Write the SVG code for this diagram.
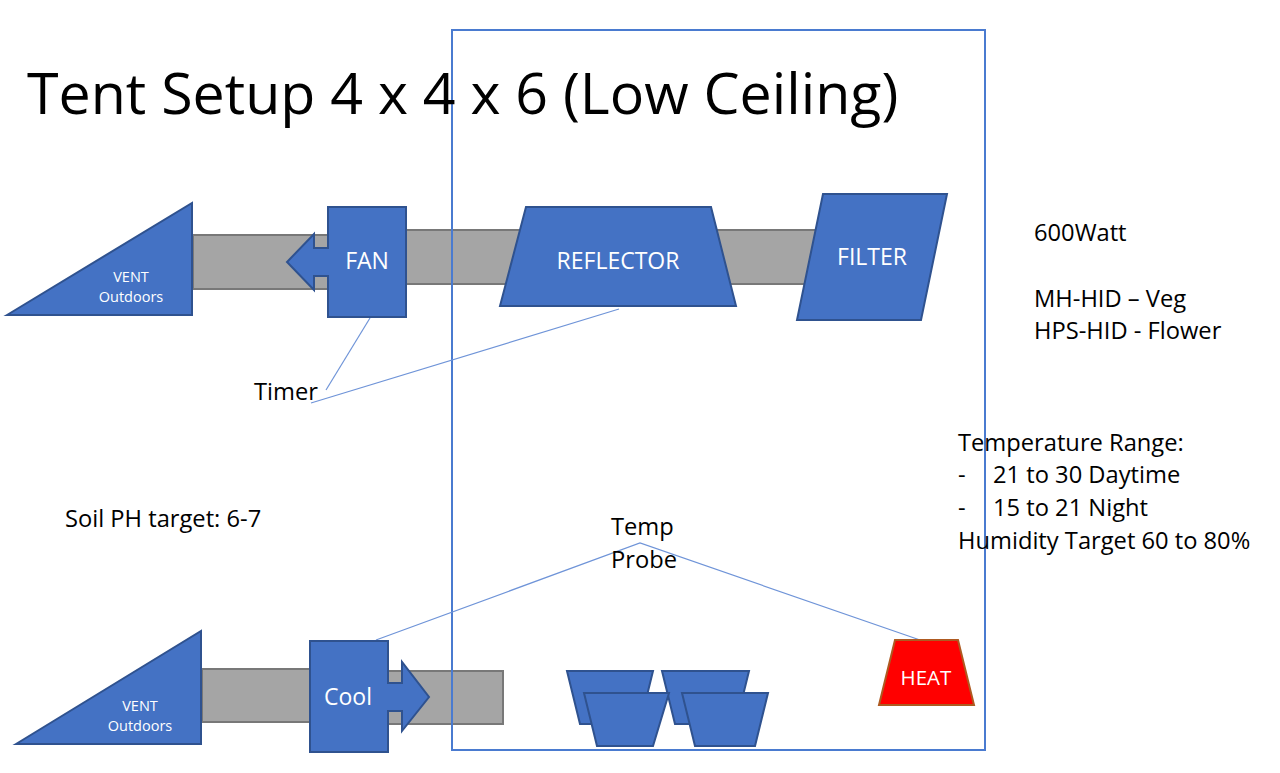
<svg xmlns="http://www.w3.org/2000/svg" width="1280" height="773" viewBox="0 0 1280 773">
<style>
text{font-family:"Open Sans","Noto Sans","Liberation Sans",sans-serif;}
.s{fill:#4472c4;stroke:#2f528f;stroke-width:2}
.d{fill:#a5a5a5;stroke:#787878;stroke-width:2}
.w{fill:#fff;text-anchor:middle}
.k{fill:#000;font-size:23.7px}
.l{stroke:#6f94d8;stroke-width:1.2;fill:none}
</style>
<rect width="1280" height="773" fill="#fff"/>
<g id="ducts">
<rect class="d" x="193" y="235" width="140" height="54"/>
<rect class="d" x="406" y="230" width="420" height="54"/>
<rect class="d" x="202" y="669" width="110" height="53"/>
<rect class="d" x="387" y="671" width="116" height="53"/>
</g>
<g id="tent"><rect x="452" y="30" width="533" height="720" fill="none" stroke="#4a7bd0" stroke-width="2"/></g>
<g id="connectors">
<path class="l" d="M370 318L326 390"/>
<path class="l" d="M619 309L311 403"/>
<path class="l" d="M376 640L640 543L920 640"/>
</g>
<g id="vent-top"><path class="s" d="M7 315L192 203V315Z"/><text class="w" font-size="14.500" x="131" y="282">VENT</text><text class="w" font-size="14.500" x="131" y="302">Outdoors</text></g>
<g id="fan"><path class="s" d="M328 207H406V317H328V276H314V290L287 262L314 234V248H328Z"/><text class="w" font-size="23" x="367" y="269">FAN</text></g>
<g id="reflector"><path class="s" d="M526 207H711L736 306H500Z"/><text class="w" font-size="23" x="618" y="269">REFLECTOR</text></g>
<g id="filter"><path class="s" d="M823 194H947L921 320H797Z"/><text class="w" font-size="23" x="872" y="265">FILTER</text></g>
<g id="vent-bottom"><path class="s" d="M16 744L201 631V744Z"/><text class="w" font-size="14.500" x="140" y="711">VENT</text><text class="w" font-size="14.500" x="140" y="731">Outdoors</text></g>
<g id="cool"><path class="s" d="M310 641H388V683H402V662L429 697L402 731V711H388V752H310Z"/><text class="w" font-size="23" x="348" y="705">Cool</text></g>
<g id="pots">
<path class="s" d="M567 671H653L640 724H580Z"/>
<path class="s" d="M662 671H749L736 724H675Z"/>
<path class="s" d="M584 693H669L653 746H597Z"/>
<path class="s" d="M682 693H768L755 746H695Z"/>
</g>
<g id="heat"><path d="M895 640H958L974 705H879Z" fill="#f00" stroke="#ae5a21" stroke-width="2"/><text class="w" font-size="20.500" x="926" y="685">HEAT</text></g>
<g id="labels">
<text font-size="57.300" x="27" y="114" fill="#000">Tent Setup 4 x 4 x 6 (Low Ceiling)</text>
<text class="k" x="254" y="400">Timer</text>
<text class="k" x="65" y="527">Soil PH target: 6-7</text>
<text class="k" x="611" y="535">Temp</text>
<text class="k" x="611" y="568">Probe</text>
<text class="k" x="1034" y="241">600Watt</text>
<text class="k" x="1034" y="307">MH-HID – Veg</text>
<text class="k" x="1034" y="339">HPS-HID - Flower</text>
<text class="k" x="958" y="451">Temperature Range:</text>
<text class="k" x="958" y="483">-</text>
<text class="k" x="993" y="483">21 to 30 Daytime</text>
<text class="k" x="958" y="516">-</text>
<text class="k" x="993" y="516">15 to 21 Night</text>
<text class="k" x="958" y="549">Humidity Target 60 to 80%</text>
</g>
</svg>
